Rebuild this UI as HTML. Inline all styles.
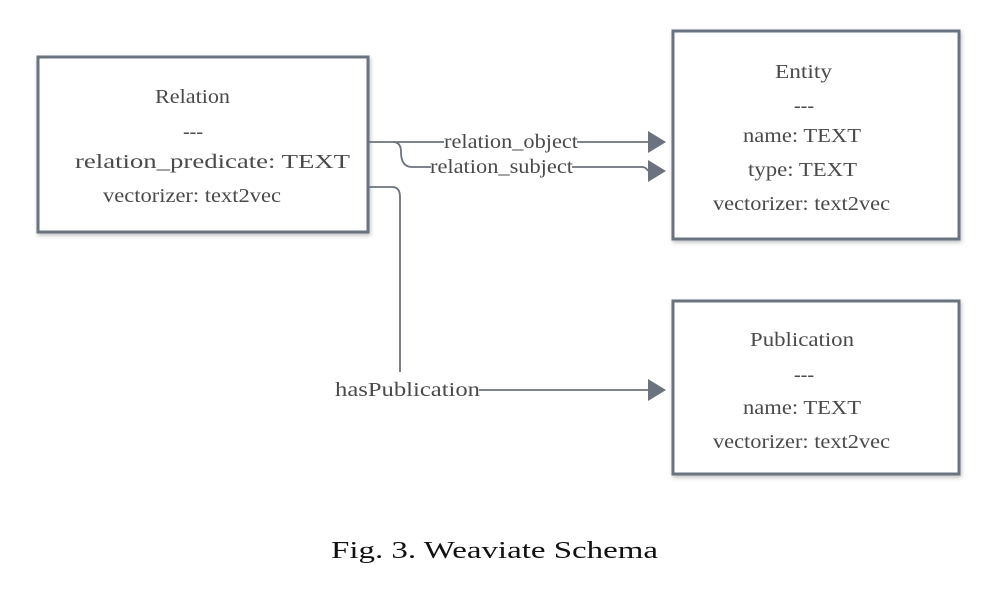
<!DOCTYPE html>
<html><head><meta charset="utf-8"><style>
html,body{margin:0;padding:0;background:#fff;width:988px;height:600px;overflow:hidden}
svg{display:block}
</style></head><body>
<svg width="988" height="600" viewBox="0 0 988 600" font-family="'Liberation Serif', 'DejaVu Serif', serif" font-size="20" fill="#4a4a4a">
<defs>
<filter id="sh" x="-10%" y="-10%" width="130%" height="130%"><feDropShadow dx="1" dy="2" stdDeviation="2" flood-color="#000" flood-opacity="0.25"/></filter>
</defs>
<g>
<rect x="38" y="57" width="330" height="175" fill="#fff" stroke="#6b7380" stroke-width="3" filter="url(#sh)"/>
<text x="155" y="103" textLength="75" lengthAdjust="spacingAndGlyphs">Relation</text>
<text x="183" y="138" textLength="20" lengthAdjust="spacingAndGlyphs">---</text>
<text x="75" y="168" textLength="275" lengthAdjust="spacingAndGlyphs">relation_predicate: TEXT</text>
<text x="103" y="202" textLength="178" lengthAdjust="spacingAndGlyphs">vectorizer: text2vec</text>
</g>
<g>
<rect x="673" y="31" width="286" height="208" fill="#fff" stroke="#6b7380" stroke-width="3" filter="url(#sh)"/>
<text x="775" y="78" textLength="57" lengthAdjust="spacingAndGlyphs">Entity</text>
<text x="794" y="112" textLength="20" lengthAdjust="spacingAndGlyphs">---</text>
<text x="743" y="142" textLength="118" lengthAdjust="spacingAndGlyphs">name: TEXT</text>
<text x="748" y="176" textLength="109" lengthAdjust="spacingAndGlyphs">type: TEXT</text>
<text x="713" y="210" textLength="177" lengthAdjust="spacingAndGlyphs">vectorizer: text2vec</text>
</g>
<g>
<rect x="673" y="301" width="286" height="173" fill="#fff" stroke="#6b7380" stroke-width="3" filter="url(#sh)"/>
<text x="750" y="346" textLength="104" lengthAdjust="spacingAndGlyphs">Publication</text>
<text x="794" y="381" textLength="20" lengthAdjust="spacingAndGlyphs">---</text>
<text x="743" y="414" textLength="118" lengthAdjust="spacingAndGlyphs">name: TEXT</text>
<text x="713" y="448" textLength="177" lengthAdjust="spacingAndGlyphs">vectorizer: text2vec</text>
</g>
<g fill="none" stroke="#6b7380" stroke-width="1.8">
<path d="M369 142 H444 M577 142 H650"/>
<path d="M393 142 Q401 142 401 152 Q401 167 412 167 H431 M572 167 H642 Q646 167 648 171"/>
<path d="M369 187 H392 Q400 187 400 197 V372 M479 390 H650"/>
</g>
<g fill="#6b7380">
<polygon points="648,131 666,142 648,153"/>
<polygon points="648,160 666,171 648,182"/>
<polygon points="648,379 666,390 648,401"/>
</g>
<text x="444" y="148" textLength="134" lengthAdjust="spacingAndGlyphs">relation_object</text>
<text x="430" y="173" textLength="143" lengthAdjust="spacingAndGlyphs">relation_subject</text>
<text x="335" y="396" textLength="145" lengthAdjust="spacingAndGlyphs">hasPublication</text>
<text x="331" y="558" font-size="24" fill="#111" textLength="327" lengthAdjust="spacingAndGlyphs">Fig. 3.  Weaviate Schema</text>
</svg>
</body></html>
